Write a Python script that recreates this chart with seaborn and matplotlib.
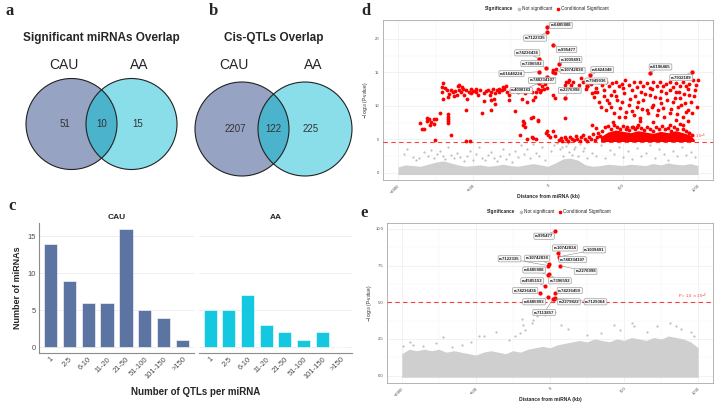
import matplotlib
matplotlib.use("Agg")
import matplotlib.pyplot as plt
from matplotlib.patches import Circle
from matplotlib.lines import Line2D
import seaborn as sns
import pandas as pd

# ---------------- data ----------------
venn_groups = ["CAU", "AA"]
venn_mirna = [51, 10, 15]          # CAU only, shared, AA only
venn_qtl = [2207, 122, 225]

qtl_bins = ["1", "2-5", "6-10", "11-20", "21-50", "51-100", "101-150", ">150"]
cau_mirnas = [14, 9, 6, 6, 16, 5, 4, 1]
aa_mirnas = [5, 5, 7, 3, 2, 1, 2, 0]

# panel d: distance (kb), -log10(P)
thr_d = 4.585
thr_e = 5.0

# dense core of non-significant SNPs (upper edge of the grey cloud)
core_d_kb = [-1000, -950, -900, -850, -800, -750, -700, -650, -600, -550, -500, -450, -400, -350, -300,
             -250, -200, -150, -100, -50, 0, 50, 100, 150, 200, 250, 300, 350, 400, 450, 500, 550,
             600, 650, 700, 750, 800, 850, 900, 950, 1000]
core_d_top = [0.9, 1.2, 1.1, 1.0, 1.3, 1.6, 1.8, 1.5, 1.2, 1.0, 1.1, 1.2, 1.0, 1.1, 1.3,
              1.1, 1.0, 1.2, 1.4, 1.2, 1.0, 1.5, 2.1, 2.2, 1.9, 1.2, 1.0, 1.1, 1.3, 1.2, 1.1, 1.3,
              1.2, 1.1, 1.4, 1.2, 1.5, 1.3, 1.2, 1.4, 1.1]

grey_d = [(-960, 2.9), (-940, 3.6), (-900, 2.4), (-880, 1.9), (-860, 2.2), (-830, 3.1), (-800, 2.6),
          (-780, 3.4), (-760, 2.3), (-740, 2.8), (-720, 3.2), (-700, 2.5), (-690, 2.1), (-670, 3.9),
          (-650, 2.7), (-630, 2.2), (-610, 3.0), (-590, 2.4), (-560, 1.8), (-540, 2.6), (-520, 3.3),
          (-500, 2.0), (-480, 2.8), (-460, 3.8), (-440, 2.3), (-420, 1.9), (-400, 2.7), (-380, 3.1),
          (-360, 2.2), (-340, 1.8), (-320, 2.5), (-300, 3.6), (-280, 2.1), (-260, 2.9), (-240, 1.7),
          (-220, 3.2), (-200, 2.4), (-180, 4.1), (-160, 2.8), (-140, 3.5), (-120, 2.2), (-100, 4.3),
          (-80, 3.0), (-60, 2.5), (-40, 3.8), (-20, 2.0), (20, 3.2), (40, 4.2), (60, 4.4), (80, 3.6),
          (90, 3.9), (100, 2.6), (120, 4.0), (130, 4.5), (140, 3.1), (160, 2.7), (170, 3.5), (180, 3.8),
          (200, 2.5), (210, 4.3), (230, 3.3), (240, 3.7), (260, 2.3), (290, 3.0), (320, 2.6),
          (350, 4.1), (380, 2.2), (410, 3.4), (440, 2.8), (470, 3.9), (500, 2.4), (530, 3.2),
          (560, 2.1), (590, 3.7), (620, 2.6), (650, 3.0), (680, 4.2), (710, 2.3), (740, 3.5),
          (770, 2.8), (800, 2.0), (830, 3.3), (860, 2.5), (890, 3.9), (920, 2.7), (950, 3.1), (980, 2.4)]

red_d = [(-708, 12.8), (-697, 13.4), (-708, 12.0), (-702, 11.0), (-675, 12.4), (-658, 11.8), (-664, 11.3),
         (-636, 12.0), (-620, 12.2), (-609, 11.6), (-603, 12.9), (-592, 12.4), (-592, 13.1), (-581, 12.1),
         (-566, 12.5), (-548, 12.4), (-559, 11.6), (-541, 11.0), (-526, 12.1), (-511, 12.5), (-515, 11.9),
         (-482, 12.5), (-478, 12.0), (-467, 11.6), (-416, 12.2), (-401, 12.4), (-390, 11.6), (-379, 12.1),
         (-368, 12.5), (-351, 11.9), (-340, 12.4), (-324, 12.5), (-307, 12.4), (-291, 12.5), (-280, 12.9),
         (-274, 12.1), (-263, 11.6), (-259, 10.9), (-237, 12.2), (-219, 12.5), (-186, 12.4), (-175, 11.0),
         (-153, 11.9), (-110, 12.1), (-99, 10.9), (-88, 11.3), (-66, 12.5), (-55, 12.1), (-44, 12.4),
         (-28, 12.5), (-427, 10.8), (-379, 10.9), (-362, 11.0), (-351, 10.3), (-59, 13.4), (-40, 12.9),
         (-20, 13.2), (-10, 12.7), (-690, 12.6), (-650, 12.3), (-628, 11.4), (-572, 12.8), (-500, 12.2),
         (-455, 12.4), (-430, 11.9), (-330, 12.0), (-300, 12.8), (-250, 12.4), (-200, 12.1), (-130, 12.4),
         (-80, 12.0), (-140, 10.6),
         (-853, 7.5), (-842, 6.6), (-829, 6.5), (-809, 8.2), (-791, 8.0), (-807, 7.8), (-780, 7.6),
         (-758, 8.0), (-747, 8.1), (-763, 7.3), (-787, 7.1), (-719, 9.0), (-666, 8.8), (-666, 8.4),
         (-666, 8.0), (-666, 7.7), (-664, 7.4), (-648, 5.6), (-754, 4.9), (-550, 4.7), (-521, 4.7),
         (-550, 9.4), (-440, 8.9), (-380, 9.4), (-220, 9.3), (-187, 5.6), (-170, 7.7), (-160, 7.5),
         (-165, 7.2), (-154, 6.9), (-114, 8.2), (-103, 8.4), (-66, 7.9), (-143, 5.0), (-110, 5.4),
         (-99, 5.2), (-77, 5.0), (-11, 5.9), (0, 5.6), (-66, 7.7), (-4, 6.2), (11, 5.4), (33, 6.3),
         (44, 5.5), (33, 15.4), (44, 14.9), (55, 15.5), (110, 13.1), (131, 13.6), (110, 8.2),
         (121, 13.6), (142, 13.8), (153, 13.1), (164, 13.6), (208, 13.1), (219, 14.1), (230, 13.6),
         (263, 12.9), (285, 13.3), (296, 13.6), (318, 12.6), (340, 13.6), (362, 13.1), (384, 13.6),
         (406, 12.9), (428, 13.4), (450, 13.6), (471, 12.9), (493, 13.3), (515, 13.8), (537, 13.1),
         (570, 13.5), (592, 12.8), (614, 13.6), (636, 13.0), (658, 13.4), (680, 12.6), (702, 13.5),
         (724, 13.0), (746, 13.6), (768, 12.9), (789, 13.3), (811, 13.6), (833, 12.8), (855, 13.4),
         (877, 13.0), (899, 13.6), (921, 12.9), (943, 13.3), (965, 13.8), (987, 13.1), (998, 13.8),
         (130, 12.4), (180, 12.2), (250, 12.5), (310, 12.1), (370, 12.4), (440, 12.2), (500, 12.6),
         (560, 12.3), (620, 12.1), (690, 12.5), (750, 12.2), (810, 12.4), (870, 12.1), (930, 12.5),
         (980, 12.3),
         (33, 11.6), (44, 11.1), (296, 11.9), (307, 11.3), (325, 12.1), (340, 10.6), (351, 9.9),
         (373, 11.4), (384, 9.4), (406, 10.4), (417, 11.6), (439, 8.9), (460, 10.9), (482, 9.7),
         (504, 11.9), (515, 8.4), (537, 10.2), (559, 9.2), (581, 11.4), (592, 9.9), (614, 8.2),
         (636, 10.9), (658, 9.4), (680, 11.6), (702, 10.2), (724, 8.7), (746, 11.1), (768, 9.7),
         (789, 11.9), (811, 8.9), (833, 10.6), (855, 12.1), (866, 9.9), (877, 11.1), (899, 8.4),
         (910, 10.4), (932, 9.4), (943, 11.6),
         (390, 10.9), (420, 9.8), (455, 11.4), (470, 8.3), (490, 10.6), (520, 9.1), (545, 11.0),
         (575, 8.6), (600, 10.6), (625, 9.5), (645, 11.8), (665, 8.9), (690, 9.8), (710, 11.3),
         (735, 9.4), (755, 10.4), (775, 8.3), (795, 10.9), (820, 9.6), (845, 11.2), (860, 8.8),
         (885, 10.2), (905, 11.7), (920, 9.1), (950, 10.6), (960, 8.9), (975, 11.4), (990, 9.9),
         (430, 7.6), (610, 7.8), (700, 7.6), (850, 7.9), (930, 7.7),
         (296, 7.2), (318, 6.7), (526, 6.9), (569, 6.9), (591, 6.9), (810, 7.2), (898, 7.2), (942, 5.9),
         (70, 4.9), (85, 5.2), (95, 4.8), (110, 5.4), (120, 5.0), (135, 4.8), (145, 5.3), (160, 5.1),
         (170, 4.9), (185, 5.5), (195, 5.0), (210, 4.8), (220, 5.3), (235, 5.6), (245, 5.0), (260, 4.8),
         (270, 5.4), (285, 5.1), (300, 5.8), (310, 4.9), (325, 5.3), (335, 6.0), (345, 5.5),
         (360, 6.3), (380, 6.8), (400, 7.0), (420, 6.6), (440, 7.2), (460, 6.9), (480, 6.5), (500, 7.0),
         (520, 6.6), (540, 6.4), (560, 6.8), (580, 6.5), (600, 7.1), (620, 6.7), (640, 6.4), (660, 6.9),
         (680, 6.5), (700, 6.3), (720, 6.8), (740, 6.6), (760, 7.0), (780, 6.5), (800, 6.7), (820, 6.3),
         (840, 6.9), (860, 6.6), (880, 7.3), (900, 6.5), (920, 6.2), (940, 6.0), (960, 5.6)]

# dense band of conditional-significant SNPs just above the threshold
band_d_kb = [350, 400, 450, 500, 550, 600, 650, 700, 750, 800, 850, 900, 950, 975]
band_d_top = [5.4, 6.1, 6.4, 6.2, 6.0, 6.3, 6.1, 5.9, 6.2, 6.0, 6.3, 6.0, 5.6, 5.0]

lead_d = [("rs6485808", -7, 21.7), ("rs7122335", -7, 21.0), ("rs995477", 33, 19.1),
          ("rs74236436", -59, 17.0), ("rs7396592", -13, 15.7), ("rs1039491", 72, 16.2),
          ("rs10742838", 33, 15.1), ("rs61648224", -59, 15.1), ("rs748334107", -7, 14.3),
          ("rs4000183", -59, 13.4), ("rs2276998", 112, 11.2), ("rs6424348", 283, 14.6),
          ("rs7949936", 260, 13.0), ("rs6196465", 678, 14.9), ("rs7932189", 960, 15.1)]

# panel e
core_e_kb = core_d_kb
core_e_top = [1.5, 1.8, 1.7, 1.8, 1.7, 1.8, 1.6, 1.7, 1.6, 1.5, 1.4, 1.6, 1.7, 1.6, 1.5,
              1.7, 1.6, 1.8, 1.9, 2.0, 1.9, 2.1, 2.2, 2.3, 2.4, 2.3, 2.5, 2.4, 2.3, 2.5, 2.4, 2.6,
              2.5, 2.4, 2.6, 2.5, 2.7, 2.6, 2.5, 2.3, 1.9]

grey_e = [(-991, 2.0), (-942, 2.3), (-924, 2.1), (-858, 2.0), (-769, 2.2), (-720, 2.6), (-658, 1.95),
          (-591, 2.1), (-535, 2.3), (-480, 2.7), (-447, 2.7), (-364, 2.95), (-280, 2.45), (-236, 2.67),
          (-202, 2.9), (-187, 3.85), (-180, 3.47), (-169, 3.13), (-124, 3.58), (-118, 3.81), (-91, 4.08),
          (-31, 4.15), (-13, 4.38), (4, 4.26), (31, 4.31), (76, 3.47), (120, 3.17), (253, 2.79),
          (342, 2.9), (431, 3.42), (475, 3.13), (553, 3.58), (564, 3.36), (653, 3.0), (720, 3.4),
          (809, 3.58), (853, 3.36), (887, 3.17), (953, 3.0), (975, 2.67)]

lead_e = [("rs995477", 33, 9.86), ("rs10742834", 53, 8.35), ("rs1039491", 60, 8.1),
          ("rs748334107", 67, 7.95), ("rs10742838", -7, 7.6), ("rs7122335", -13, 7.5),
          ("rs2276998", 67, 7.5), ("rs6485808", -13, 6.85), ("rs4585153", -33, 6.1),
          ("rs7396592", -10, 6.9), ("rs74236436", -67, 5.65), ("rs74236459", 33, 5.65),
          ("rs6485893", -13, 5.35), ("rs2279822", 33, 5.3), ("rs7129364", 27, 5.2),
          ("rs7113857", 20, 5.2)]

# label box positions (layout only)
label_pos_d = [(86, 22.0), (-86, 20.1), (124, 18.4), (-138, 17.9), (-105, 16.3), (151, 16.9),
               (164, 15.3), (-243, 14.8), (-39, 13.8), (-178, 12.3), (145, 12.3), (362, 15.4),
               (322, 13.7), (750, 15.8), (888, 14.2)]
label_pos_e = [(-40, 9.5), (100, 8.7), (300, 8.57), (153, 7.9), (-87, 8.0), (-273, 7.96),
               (240, 7.1), (-107, 7.2), (-120, 6.46), (67, 6.46), (-167, 5.8), (133, 5.8),
               (-107, 5.03), (127, 5.03), (307, 5.03), (-40, 4.3)]

# ---------------- style ----------------
sns.set_theme(style="white")
plt.rcParams["font.family"] = ["Liberation Sans", "DejaVu Sans"]

c_left, c_right, c_mid = "#97A3C2", "#8ADEEA", "#4BB3CB"
c_cau, c_aa = "#5B74A2", "#14C8DF"
grey_pt, red_pt = "#BEBEBE", "#FF0000"

fig = plt.figure(figsize=(7.23, 4.09), dpi=100)


def px_rect(l, t, r, b):
    return [l / 723, 1 - b / 409, (r - l) / 723, (b - t) / 409]


ov = fig.add_axes([0, 0, 1, 1])
ov.set_xlim(0, 723)
ov.set_ylim(409, 0)
ov.axis("off")

for letter, x, y in [("a", 10, 11), ("b", 213, 11), ("c", 12, 206), ("d", 366, 11), ("e", 364, 213)]:
    ov.text(x, y, letter, family="Liberation Serif", fontweight="bold", fontsize=12,
            ha="center", va="center")


def venn(cx1, cx2, cy, r, counts, title):
    c1 = Circle((cx1, cy), r, fc=c_left, ec="none")
    c2 = Circle((cx2, cy), r, fc=c_right, ec="none")
    ov.add_patch(c1)
    ov.add_patch(c2)
    mid = Circle((cx2, cy), r, fc=c_mid, ec="none")
    ov.add_patch(mid)
    mid.set_clip_path(c1)
    for cx in (cx1, cx2):
        ov.add_patch(Circle((cx, cy), r, fill=False, ec="#222222", lw=0.8))
    ov.text(cx1 - 7, cy, f"{counts[0]}", ha="center", va="center", fontsize=7, color="#333333")
    ov.text((cx1 + cx2) / 2, cy, f"{counts[1]}", ha="center", va="center", fontsize=7, color="#333333")
    ov.text(cx2 + 6, cy, f"{counts[2]}", ha="center", va="center", fontsize=7, color="#333333")
    ov.text(cx1 - 8, 65, venn_groups[0], ha="center", va="center", fontsize=10)
    ov.text(cx2 + 8, 65, venn_groups[1], ha="center", va="center", fontsize=10)
    ov.text((cx1 + cx2) / 2, 38, title, ha="center", va="center", fontsize=8.5, fontweight="bold")


venn(71.5, 131.5, 124, 45.5, venn_mirna, "Significant miRNAs Overlap")
venn(242, 305, 129, 47, venn_qtl, "Cis-QTLs Overlap")

# ---------------- panel c ----------------
df_c = pd.DataFrame({"bin": qtl_bins * 2, "n": cau_mirnas + aa_mirnas,
                     "group": ["CAU"] * len(qtl_bins) + ["AA"] * len(qtl_bins)})
ax_c1 = fig.add_axes(px_rect(39, 223, 194, 353))
ax_c2 = fig.add_axes(px_rect(199, 223, 352, 353))
for ax, grp, col in [(ax_c1, "CAU", c_cau), (ax_c2, "AA", c_aa)]:
    sub = df_c[df_c["group"] == grp]
    sns.barplot(data=sub, x="bin", y="n", order=qtl_bins, color=col, saturation=1,
                width=0.7, edgecolor="white", linewidth=0.4, ax=ax)
    ax.set_xlim(-0.6, 7.6)
    ax.set_ylim(-0.8, 16.8)
    ax.set_yticks([0, 5, 10, 15])
    ax.yaxis.grid(True, color="#EBEBEB", lw=0.6)
    ax.set_axisbelow(True)
    for s in ["top", "right"]:
        ax.spines[s].set_visible(False)
    ax.spines["bottom"].set_color("#8C8C8C")
    ax.spines["left"].set_color("#8C8C8C")
    ax.spines["bottom"].set_linewidth(0.8)
    ax.spines["left"].set_linewidth(0.8)
    ax.tick_params(length=0, labelsize=5.5, colors="#4D4D4D", pad=2)
    plt.setp(ax.get_xticklabels(), rotation=45, ha="right", rotation_mode="anchor")
    ax.set_xlabel("")
    ax.set_ylabel("")
    ax.set_title(grp, fontsize=6, fontweight="bold", pad=3)
ax_c2.spines["left"].set_visible(False)
ax_c2.set_yticklabels([])
ax_c1.set_ylabel("Number of miRNAs", fontsize=6.5, fontweight="bold")
ax_c1.yaxis.set_label_coords(-0.11, 0.5)
ov.text(196, 392, "Number of QTLs per miRNA", ha="center", va="center", fontsize=7, fontweight="bold")


# ---------------- panels d / e ----------------
def manhattan(ax, core_kb, core_top, grey, red, leads, label_pos, thr, thr_text, ylim, yticks, yminor,
              red_size, band=None):
    ax.fill_between(core_kb, -0.01 * (ylim[1] - ylim[0]), core_top, color="#CFCFCF", lw=0, zorder=1)
    g = pd.DataFrame(grey, columns=["kb", "logp"])
    sns.scatterplot(data=g, x="kb", y="logp", color=grey_pt, s=2.5, linewidth=0, ax=ax, zorder=2)
    if band is not None:
        ax.fill_between(band[0], thr + 0.1, band[1], color=red_pt, lw=0, zorder=3)
    if red is not None:
        rd = pd.DataFrame(red, columns=["kb", "logp"])
        sns.scatterplot(data=rd, x="kb", y="logp", color=red_pt, s=red_size, linewidth=0, ax=ax, zorder=3)
    ld = pd.DataFrame(leads, columns=["snp", "kb", "logp"])
    sns.scatterplot(data=ld, x="kb", y="logp", color=red_pt, s=red_size * 1.3, linewidth=0, ax=ax, zorder=4)
    for (name, kx, ly), (tx, ty) in zip(leads, label_pos):
        ax.annotate(name, xy=(kx, ly), xytext=(tx, ty), fontsize=3.1, fontweight="bold", color="#222222",
                    ha="center", va="center", zorder=6,
                    bbox=dict(boxstyle="round,pad=0.25", fc="#F7F7F7", ec="#8C8C8C", lw=0.4),
                    arrowprops=dict(arrowstyle="-", color="#8C8C8C", lw=0.4, shrinkA=0, shrinkB=1))
    ax.axhline(thr, color=red_pt, ls=(0, (4, 3)), lw=0.8, alpha=0.75, zorder=5)
    ax.text(960, thr + 0.035 * (ylim[1] - ylim[0]), thr_text, color=red_pt, fontsize=3, ha="center",
            va="center", alpha=0.8)
    ax.set_xlim(-1100, 1100)
    ax.set_ylim(*ylim)
    ax.set_xticks([-1000, -500, 0, 500, 1000])
    ax.set_xticks([-750, -250, 250, 750], minor=True)
    ax.set_yticks(yticks)
    ax.set_yticks(yminor, minor=True)
    ax.grid(True, which="major", color="#EBEBEB", lw=0.45)
    ax.grid(True, which="minor", color="#F4F4F4", lw=0.3)
    ax.set_axisbelow(True)
    for s in ax.spines.values():
        s.set_color("#A8A8A8")
        s.set_linewidth(0.6)
    ax.tick_params(which="major", length=1.5, width=0.4, color="#888888", labelsize=3,
                   labelcolor="#4D4D4D", pad=1)
    ax.tick_params(which="minor", length=0)
    plt.setp(ax.get_xticklabels(), rotation=45, ha="right", rotation_mode="anchor")
    ax.set_xlabel("Distance from miRNA (kb)", fontsize=3.6, fontweight="bold")
    ax.xaxis.set_label_coords(0.5, -0.085)
    ax.set_ylabel(r"$-\log_{10}$(P-value)", fontsize=3.4)
    ax.yaxis.set_label_coords(-0.04, 0.5)
    h0 = Line2D([], [], ls="none")
    h1 = Line2D([], [], ls="none", marker="o", color=grey_pt, ms=1.6)
    h2 = Line2D([], [], ls="none", marker="o", color=red_pt, ms=1.6)
    leg = ax.legend([h0, h1, h2], ["Significance", "Not significant", "Conditional Significant"],
                    ncol=3, loc="center", bbox_to_anchor=(0.49, 1.07), frameon=False, fontsize=3.4,
                    handlelength=0.6, handletextpad=0.4, columnspacing=0.8)
    leg.get_texts()[0].set_fontweight("bold")


ax_d = fig.add_axes(px_rect(383, 20, 713, 180))
manhattan(ax_d, core_d_kb, core_d_top, grey_d, red_d, lead_d, label_pos_d, thr_d,
          r"P = 2.6 $\times$ 10$^{-5}$", (-1.05, 22.8), [0, 5, 10, 15, 20], [2.5, 7.5, 12.5, 17.5, 22.5],
          7.5, band=(band_d_kb, band_d_top))

ax_e = fig.add_axes(px_rect(387, 223, 713, 383))
manhattan(ax_e, core_e_kb, core_e_top, grey_e, None, lead_e, label_pos_e, thr_e,
          r"P = 1.0 $\times$ 10$^{-5}$", (-0.5, 10.4), [0, 2.5, 5.0, 7.5, 10.0],
          [1.25, 3.75, 6.25, 8.75], 7)

fig.savefig("out.png", dpi=100)
